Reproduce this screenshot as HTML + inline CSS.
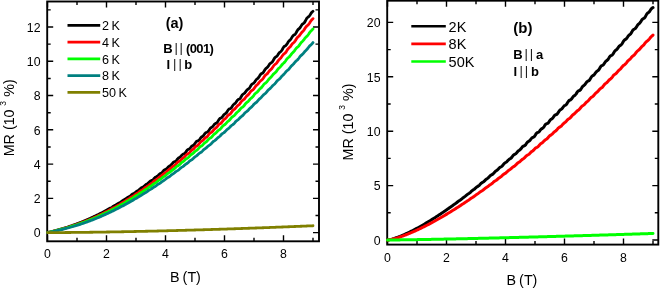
<!DOCTYPE html>
<html><head><meta charset="utf-8"><title>MR vs B</title>
<style>html,body{margin:0;padding:0;background:#fff}svg{display:block}text{filter:grayscale(1)}</style></head>
<body><svg width="660" height="289" viewBox="0 0 660 289" font-family='"Liberation Sans", sans-serif'>
<rect width="660" height="289" fill="#fff"/>
<rect x="47.20" y="1.50" width="271.80" height="239.80" fill="none" stroke="#000" stroke-width="1.90"/>
<path d="M47.50 241.30V235.30M47.50 1.50V7.50M77.00 241.30V237.80M77.00 1.50V5.00M106.50 241.30V235.30M106.50 1.50V7.50M136.00 241.30V237.80M136.00 1.50V5.00M165.50 241.30V235.30M165.50 1.50V7.50M195.00 241.30V237.80M195.00 1.50V5.00M224.50 241.30V235.30M224.50 1.50V7.50M254.00 241.30V237.80M254.00 1.50V5.00M283.50 241.30V235.30M283.50 1.50V7.50M313.00 241.30V237.80M313.00 1.50V5.00M47.20 232.60H53.20M319.00 232.60H313.00M47.20 215.47H50.70M319.00 215.47H315.50M47.20 198.34H53.20M319.00 198.34H313.00M47.20 181.21H50.70M319.00 181.21H315.50M47.20 164.08H53.20M319.00 164.08H313.00M47.20 146.95H50.70M319.00 146.95H315.50M47.20 129.82H53.20M319.00 129.82H313.00M47.20 112.69H50.70M319.00 112.69H315.50M47.20 95.56H53.20M319.00 95.56H313.00M47.20 78.43H50.70M319.00 78.43H315.50M47.20 61.30H53.20M319.00 61.30H313.00M47.20 44.17H50.70M319.00 44.17H315.50M47.20 27.04H53.20M319.00 27.04H313.00M47.20 9.91H50.70M319.00 9.91H315.50" stroke="#000" stroke-width="1.40" fill="none"/>
<g fill="none" stroke-width="2.80" stroke-linecap="round" stroke-linejoin="round">
<path d="M47.50 232.60 L48.38 232.42 L49.27 232.22 L50.16 232.01 L51.04 231.79 L51.92 231.57 L52.81 231.35 L53.70 231.12 L54.58 230.88 L55.47 230.64 L56.35 230.40 L57.23 230.16 L58.12 229.91 L59.01 229.66 L59.89 229.41 L60.77 229.15 L61.66 228.89 L62.55 228.62 L63.43 228.36 L64.31 228.09 L65.20 227.81 L66.09 227.53 L66.97 227.25 L67.85 226.96 L68.74 226.68 L69.62 226.38 L70.51 226.08 L71.40 225.78 L72.28 225.48 L73.16 225.17 L74.05 224.85 L74.94 224.53 L75.82 224.21 L76.70 223.88 L77.59 223.55 L78.47 223.21 L79.36 222.87 L80.25 222.53 L81.13 222.18 L82.02 221.82 L82.90 221.47 L83.78 221.10 L84.67 220.74 L85.56 220.36 L86.44 219.99 L87.33 219.60 L88.21 219.22 L89.09 218.83 L89.98 218.43 L90.87 218.03 L91.75 217.63 L92.63 217.22 L93.52 216.81 L94.41 216.39 L95.29 215.96 L96.17 215.54 L97.06 215.10 L97.94 214.67 L98.83 214.23 L99.72 213.78 L100.60 213.33 L101.48 212.88 L102.37 212.42 L103.25 211.96 L104.14 211.49 L105.03 211.01 L105.91 210.54 L106.79 210.06 L107.68 209.57 L108.56 209.07 L109.45 208.57 L110.33 208.09 L111.22 207.62 L112.11 207.11 L112.99 206.56 L113.88 206.03 L114.76 205.53 L115.64 205.04 L116.53 204.49 L117.42 203.90 L118.30 203.35 L119.19 202.87 L120.07 202.42 L120.96 201.88 L121.84 201.23 L122.72 200.59 L123.61 200.04 L124.49 199.56 L125.38 199.03 L126.27 198.40 L127.15 197.76 L128.03 197.23 L128.92 196.77 L129.81 196.23 L130.69 195.51 L131.57 194.74 L132.46 194.12 L133.34 193.67 L134.23 193.21 L135.12 192.57 L136.00 191.83 L136.88 191.17 L137.77 190.66 L138.66 190.14 L139.54 189.42 L140.43 188.57 L141.31 187.85 L142.19 187.39 L143.08 187.01 L143.97 186.41 L144.85 185.57 L145.74 184.72 L146.62 184.10 L147.50 183.61 L148.39 182.98 L149.28 182.13 L150.16 181.31 L151.04 180.77 L151.93 180.41 L152.81 179.86 L153.70 178.95 L154.58 177.93 L155.47 177.15 L156.36 176.69 L157.24 176.21 L158.12 175.45 L159.01 174.54 L159.89 173.82 L160.78 173.37 L161.67 172.86 L162.55 171.98 L163.44 170.84 L164.32 169.92 L165.21 169.45 L166.09 169.12 L166.97 168.50 L167.86 167.51 L168.75 166.54 L169.63 165.89 L170.51 165.41 L171.40 164.65 L172.29 163.54 L173.17 162.51 L174.06 161.94 L174.94 161.69 L175.82 161.19 L176.71 160.16 L177.59 158.94 L178.48 158.04 L179.36 157.55 L180.25 157.00 L181.14 156.06 L182.02 154.96 L182.91 154.20 L183.79 153.86 L184.68 153.44 L185.56 152.45 L186.44 151.06 L187.33 149.92 L188.21 149.38 L189.10 149.06 L189.99 148.37 L190.87 147.25 L191.75 146.21 L192.64 145.63 L193.53 145.21 L194.41 144.35 L195.29 142.97 L196.18 141.67 L197.06 141.02 L197.95 140.82 L198.84 140.37 L199.72 139.28 L200.61 137.96 L201.49 137.03 L202.38 136.51 L203.26 135.86 L204.14 134.70 L205.03 133.39 L205.91 132.55 L206.80 132.27 L207.69 131.92 L208.57 130.91 L209.46 129.44 L210.34 128.19 L211.22 127.53 L212.11 127.07 L213.00 126.22 L213.88 124.99 L214.76 123.93 L215.65 123.39 L216.54 123.01 L217.42 122.12 L218.31 120.64 L219.19 119.20 L220.07 118.38 L220.96 118.04 L221.84 117.49 L222.73 116.38 L223.61 115.09 L224.50 114.20 L225.39 113.67 L226.27 112.92 L227.16 111.61 L228.04 110.13 L228.93 109.15 L229.81 108.79 L230.69 108.42 L231.58 107.44 L232.46 105.99 L233.35 104.73 L234.24 103.99 L235.12 103.38 L236.00 102.36 L236.89 100.98 L237.78 99.84 L238.66 99.30 L239.54 98.94 L240.43 98.08 L241.31 96.58 L242.20 95.06 L243.09 94.11 L243.97 93.60 L244.86 92.90 L245.74 91.70 L246.62 90.41 L247.51 89.55 L248.39 89.06 L249.28 88.29 L250.16 86.89 L251.05 85.27 L251.94 84.13 L252.82 83.63 L253.71 83.17 L254.59 82.18 L255.47 80.76 L256.36 79.55 L257.25 78.80 L258.13 78.11 L259.01 76.94 L259.90 75.39 L260.79 74.12 L261.67 73.50 L262.56 73.13 L263.44 72.30 L264.32 70.84 L265.21 69.30 L266.10 68.28 L266.98 67.63 L267.87 66.76 L268.75 65.42 L269.63 64.05 L270.52 63.19 L271.40 62.73 L272.29 62.00 L273.18 60.58 L274.06 58.88 L274.94 57.61 L275.83 56.95 L276.71 56.35 L277.60 55.28 L278.49 53.86 L279.37 52.68 L280.25 51.98 L281.14 51.27 L282.02 50.01 L282.91 48.32 L283.79 46.89 L284.68 46.15 L285.56 45.71 L286.45 44.86 L287.34 43.43 L288.22 41.94 L289.11 40.91 L289.99 40.18 L290.88 39.17 L291.76 37.66 L292.64 36.16 L293.53 35.24 L294.41 34.78 L295.30 34.08 L296.19 32.70 L297.07 30.99 L297.96 29.64 L298.84 28.85 L299.73 28.09 L300.61 26.87 L301.50 25.38 L302.38 24.21 L303.26 23.55 L304.15 22.88 L305.04 21.61 L305.92 19.83 L306.80 18.27 L307.69 17.37 L308.57 16.80 L309.46 15.88 L310.35 14.45 L311.23 13.01 L312.12 12.02 L313.00 11.28" stroke="#000000"/>
<path d="M47.50 232.60 L48.38 232.42 L49.27 232.23 L50.16 232.03 L51.04 231.83 L51.92 231.62 L52.81 231.40 L53.70 231.18 L54.58 230.96 L55.47 230.74 L56.35 230.51 L57.23 230.28 L58.12 230.05 L59.01 229.82 L59.89 229.58 L60.77 229.34 L61.66 229.10 L62.55 228.85 L63.43 228.60 L64.31 228.35 L65.20 228.09 L66.09 227.83 L66.97 227.57 L67.85 227.31 L68.74 227.04 L69.62 226.76 L70.51 226.48 L71.40 226.20 L72.28 225.92 L73.16 225.63 L74.05 225.34 L74.94 225.04 L75.82 224.74 L76.70 224.43 L77.59 224.12 L78.47 223.81 L79.36 223.49 L80.25 223.17 L81.13 222.84 L82.02 222.51 L82.90 222.17 L83.78 221.83 L84.67 221.49 L85.56 221.14 L86.44 220.78 L87.33 220.42 L88.21 220.06 L89.09 219.69 L89.98 219.32 L90.87 218.95 L91.75 218.57 L92.63 218.18 L93.52 217.79 L94.41 217.40 L95.29 217.00 L96.17 216.60 L97.06 216.19 L97.94 215.78 L98.83 215.36 L99.72 214.94 L100.60 214.51 L101.48 214.08 L102.37 213.65 L103.25 213.21 L104.14 212.77 L105.03 212.32 L105.91 211.87 L106.79 211.41 L107.68 210.95 L108.56 210.48 L109.45 210.02 L110.33 209.57 L111.22 209.09 L112.11 208.59 L112.99 208.08 L113.88 207.59 L114.76 207.13 L115.64 206.64 L116.53 206.12 L117.42 205.59 L118.30 205.10 L119.19 204.63 L120.07 204.13 L120.96 203.55 L121.84 202.96 L122.72 202.42 L123.61 201.96 L124.49 201.48 L125.38 200.93 L126.27 200.32 L127.15 199.75 L128.03 199.25 L128.92 198.73 L129.81 198.13 L130.69 197.46 L131.57 196.87 L132.46 196.39 L133.34 195.94 L134.23 195.37 L135.12 194.68 L136.00 194.00 L136.88 193.43 L137.77 192.92 L138.66 192.34 L139.54 191.65 L140.43 190.98 L141.31 190.44 L142.19 189.99 L143.08 189.43 L143.97 188.68 L144.85 187.88 L145.74 187.22 L146.62 186.73 L147.50 186.21 L148.39 185.54 L149.28 184.78 L150.16 184.14 L151.04 183.63 L151.93 183.08 L152.81 182.32 L153.70 181.44 L154.58 180.69 L155.47 180.18 L156.36 179.74 L157.24 179.12 L158.12 178.29 L159.01 177.48 L159.89 176.86 L160.78 176.32 L161.67 175.62 L162.55 174.73 L163.44 173.90 L164.32 173.33 L165.21 172.92 L166.09 172.35 L166.97 171.47 L167.86 170.49 L168.75 169.73 L169.63 169.18 L170.51 168.60 L171.40 167.79 L172.29 166.89 L173.17 166.19 L174.06 165.72 L174.94 165.18 L175.82 164.30 L176.71 163.21 L177.59 162.30 L178.48 161.74 L179.36 161.28 L180.25 160.59 L181.14 159.64 L182.02 158.76 L182.91 158.14 L183.79 157.60 L184.68 156.79 L185.56 155.69 L186.44 154.67 L187.33 154.04 L188.21 153.66 L189.10 153.09 L189.99 152.13 L190.87 151.03 L191.75 150.20 L192.64 149.63 L193.53 148.95 L194.41 147.96 L195.29 146.88 L196.18 146.12 L197.06 145.71 L197.95 145.21 L198.84 144.27 L199.72 143.04 L200.61 141.99 L201.49 141.34 L202.38 140.81 L203.26 140.01 L204.14 138.95 L205.03 138.01 L205.91 137.42 L206.80 136.90 L207.69 136.03 L208.57 134.78 L209.46 133.60 L210.34 132.86 L211.22 132.40 L212.11 131.78 L213.00 130.77 L213.88 129.65 L214.76 128.81 L215.65 128.20 L216.54 127.43 L217.42 126.30 L218.31 125.08 L219.19 124.22 L220.07 123.74 L220.96 123.21 L221.84 122.27 L222.73 121.02 L223.61 119.93 L224.50 119.20 L225.39 118.53 L226.27 117.59 L227.16 116.41 L228.04 115.42 L228.93 114.81 L229.81 114.28 L230.69 113.40 L231.58 112.11 L232.46 110.84 L233.35 109.97 L234.24 109.38 L235.12 108.64 L236.00 107.56 L236.89 106.43 L237.78 105.60 L238.66 104.98 L239.54 104.16 L240.43 102.93 L241.31 101.59 L242.20 100.60 L243.09 100.02 L243.97 99.43 L244.86 98.46 L245.74 97.21 L246.62 96.12 L247.51 95.34 L248.39 94.59 L249.28 93.51 L250.16 92.21 L251.05 91.11 L251.94 90.44 L252.82 89.90 L253.71 89.02 L254.59 87.72 L255.47 86.41 L256.36 85.46 L257.25 84.74 L258.13 83.87 L259.01 82.68 L259.90 81.50 L260.79 80.65 L261.67 80.04 L262.56 79.21 L263.44 77.93 L264.32 76.51 L265.21 75.40 L266.10 74.69 L266.98 73.99 L267.87 72.96 L268.75 71.70 L269.63 70.62 L270.52 69.84 L271.40 69.04 L272.29 67.87 L273.18 66.45 L274.06 65.23 L274.94 64.46 L275.83 63.86 L276.71 62.96 L277.60 61.66 L278.49 60.36 L279.37 59.37 L280.25 58.57 L281.14 57.56 L282.02 56.25 L282.91 54.96 L283.79 54.07 L284.68 53.44 L285.56 52.62 L286.45 51.34 L287.34 49.87 L288.22 48.68 L289.11 47.85 L289.99 47.03 L290.88 45.89 L291.76 44.58 L292.64 43.49 L293.53 42.73 L294.41 41.93 L295.30 40.71 L296.19 39.20 L297.07 37.86 L297.96 36.97 L298.84 36.27 L299.73 35.31 L300.61 34.01 L301.50 32.72 L302.38 31.73 L303.26 30.89 L304.15 29.80 L305.04 28.36 L305.92 26.95 L306.80 25.96 L307.69 25.29 L308.57 24.46 L309.46 23.18 L310.35 21.72 L311.23 20.49 L312.12 19.58 L313.00 18.63" stroke="#ff0000"/>
<path d="M47.50 232.60 L48.38 232.43 L49.27 232.24 L50.16 232.04 L51.04 231.84 L51.92 231.63 L52.81 231.42 L53.70 231.21 L54.58 231.00 L55.47 230.78 L56.35 230.56 L57.23 230.34 L58.12 230.12 L59.01 229.89 L59.89 229.66 L60.77 229.43 L61.66 229.20 L62.55 228.97 L63.43 228.73 L64.31 228.49 L65.20 228.24 L66.09 227.99 L66.97 227.74 L67.85 227.49 L68.74 227.23 L69.62 226.97 L70.51 226.71 L71.40 226.44 L72.28 226.17 L73.16 225.89 L74.05 225.61 L74.94 225.33 L75.82 225.04 L76.70 224.75 L77.59 224.46 L78.47 224.16 L79.36 223.86 L80.25 223.55 L81.13 223.24 L82.02 222.92 L82.90 222.60 L83.78 222.28 L84.67 221.95 L85.56 221.62 L86.44 221.29 L87.33 220.95 L88.21 220.60 L89.09 220.25 L89.98 219.90 L90.87 219.54 L91.75 219.18 L92.63 218.82 L93.52 218.45 L94.41 218.07 L95.29 217.69 L96.17 217.31 L97.06 216.93 L97.94 216.53 L98.83 216.14 L99.72 215.74 L100.60 215.34 L101.48 214.93 L102.37 214.51 L103.25 214.10 L104.14 213.68 L105.03 213.25 L105.91 212.82 L106.79 212.39 L107.68 211.95 L108.56 211.51 L109.45 211.08 L110.33 210.63 L111.22 210.16 L112.11 209.69 L112.99 209.23 L113.88 208.79 L114.76 208.34 L115.64 207.86 L116.53 207.35 L117.42 206.86 L118.30 206.40 L119.19 205.93 L120.07 205.41 L120.96 204.87 L121.84 204.37 L122.72 203.92 L123.61 203.47 L124.49 202.95 L125.38 202.37 L126.27 201.80 L127.15 201.30 L128.03 200.83 L128.92 200.31 L129.81 199.72 L130.69 199.15 L131.57 198.67 L132.46 198.21 L133.34 197.67 L134.23 197.02 L135.12 196.37 L136.00 195.81 L136.88 195.35 L137.77 194.86 L138.66 194.25 L139.54 193.61 L140.43 193.03 L141.31 192.54 L142.19 192.00 L143.08 191.33 L143.97 190.61 L144.85 189.99 L145.74 189.52 L146.62 189.07 L147.50 188.47 L148.39 187.73 L149.28 187.04 L150.16 186.48 L151.04 185.96 L151.93 185.32 L152.81 184.57 L153.70 183.88 L154.58 183.36 L155.47 182.92 L156.36 182.33 L157.24 181.54 L158.12 180.72 L159.01 180.06 L159.89 179.56 L160.78 179.00 L161.67 178.27 L162.55 177.50 L163.44 176.89 L164.32 176.40 L165.21 175.83 L166.09 175.02 L166.97 174.11 L167.86 173.36 L168.75 172.86 L169.63 172.39 L170.51 171.72 L171.40 170.87 L172.29 170.10 L173.17 169.51 L174.06 168.96 L174.94 168.20 L175.82 167.26 L176.71 166.42 L177.59 165.88 L178.48 165.46 L179.36 164.86 L180.25 163.96 L181.14 163.01 L182.02 162.28 L182.91 161.73 L183.79 161.08 L184.68 160.20 L185.56 159.29 L186.44 158.64 L187.33 158.20 L188.21 157.64 L189.10 156.73 L189.99 155.65 L190.87 154.76 L191.75 154.20 L192.64 153.69 L193.53 152.93 L194.41 151.98 L195.29 151.15 L196.18 150.59 L197.06 150.04 L197.95 149.18 L198.84 148.06 L199.72 147.07 L200.61 146.45 L201.49 146.02 L202.38 145.39 L203.26 144.42 L204.14 143.42 L205.03 142.66 L205.91 142.07 L206.80 141.32 L207.69 140.28 L208.57 139.24 L209.46 138.52 L210.34 138.07 L211.22 137.50 L212.11 136.56 L213.00 135.42 L213.88 134.46 L214.76 133.81 L215.65 133.18 L216.54 132.30 L217.42 131.26 L218.31 130.40 L219.19 129.82 L220.07 129.26 L220.96 128.36 L221.84 127.17 L222.73 126.08 L223.61 125.34 L224.50 124.80 L225.39 124.08 L226.27 123.07 L227.16 122.05 L228.04 121.29 L228.93 120.67 L229.81 119.84 L230.69 118.70 L231.58 117.54 L232.46 116.71 L233.35 116.19 L234.24 115.58 L235.12 114.62 L236.00 113.47 L236.89 112.49 L237.78 111.77 L238.66 111.03 L239.54 110.03 L240.43 108.88 L241.31 107.94 L242.20 107.33 L243.09 106.76 L243.97 105.85 L244.86 104.63 L245.74 103.47 L246.62 102.64 L247.51 101.98 L248.39 101.14 L249.28 100.06 L250.16 99.01 L251.05 98.24 L251.94 97.61 L252.82 96.75 L253.71 95.55 L254.59 94.29 L255.47 93.34 L256.36 92.71 L257.25 92.02 L258.13 91.03 L259.01 89.87 L259.90 88.89 L260.79 88.14 L261.67 87.34 L262.56 86.23 L263.44 84.96 L264.32 83.93 L265.21 83.25 L266.10 82.64 L266.98 81.72 L267.87 80.49 L268.75 79.31 L269.63 78.41 L270.52 77.65 L271.40 76.70 L272.29 75.51 L273.18 74.39 L274.06 73.59 L274.94 72.96 L275.83 72.10 L276.71 70.86 L277.60 69.54 L278.49 68.50 L279.37 67.75 L280.25 66.96 L281.14 65.89 L282.02 64.70 L282.91 63.72 L283.79 62.97 L284.68 62.14 L285.56 60.97 L286.45 59.60 L287.34 58.45 L288.22 57.68 L289.11 57.00 L289.99 56.05 L290.88 54.82 L291.76 53.63 L292.64 52.72 L293.53 51.89 L294.41 50.84 L295.30 49.53 L296.19 48.31 L297.07 47.45 L297.96 46.79 L298.84 45.92 L299.73 44.68 L300.61 43.34 L301.50 42.24 L302.38 41.40 L303.26 40.49 L304.15 39.32 L305.04 38.06 L305.92 37.06 L306.80 36.31 L307.69 35.48 L308.57 34.27 L309.46 32.85 L310.35 31.61 L311.23 30.72 L312.12 29.94 L313.00 28.92" stroke="#00ff00"/>
<path d="M47.50 232.60 L48.38 232.45 L49.27 232.29 L50.16 232.12 L51.04 231.94 L51.92 231.76 L52.81 231.58 L53.70 231.39 L54.58 231.20 L55.47 231.00 L56.35 230.80 L57.23 230.61 L58.12 230.40 L59.01 230.20 L59.89 229.99 L60.77 229.78 L61.66 229.56 L62.55 229.35 L63.43 229.13 L64.31 228.90 L65.20 228.68 L66.09 228.45 L66.97 228.22 L67.85 227.98 L68.74 227.74 L69.62 227.50 L70.51 227.25 L71.40 227.00 L72.28 226.75 L73.16 226.49 L74.05 226.23 L74.94 225.97 L75.82 225.70 L76.70 225.43 L77.59 225.15 L78.47 224.87 L79.36 224.59 L80.25 224.30 L81.13 224.01 L82.02 223.71 L82.90 223.41 L83.78 223.11 L84.67 222.80 L85.56 222.49 L86.44 222.18 L87.33 221.86 L88.21 221.53 L89.09 221.21 L89.98 220.88 L90.87 220.54 L91.75 220.20 L92.63 219.86 L93.52 219.51 L94.41 219.16 L95.29 218.81 L96.17 218.45 L97.06 218.08 L97.94 217.72 L98.83 217.35 L99.72 216.97 L100.60 216.59 L101.48 216.21 L102.37 215.82 L103.25 215.43 L104.14 215.04 L105.03 214.64 L105.91 214.24 L106.79 213.83 L107.68 213.42 L108.56 213.01 L109.45 212.60 L110.33 212.17 L111.22 211.74 L112.11 211.31 L112.99 210.89 L113.88 210.48 L114.76 210.03 L115.64 209.56 L116.53 209.10 L117.42 208.66 L118.30 208.23 L119.19 207.77 L120.07 207.29 L120.96 206.81 L121.84 206.37 L122.72 205.94 L123.61 205.46 L124.49 204.93 L125.38 204.40 L126.27 203.93 L127.15 203.50 L128.03 203.04 L128.92 202.52 L129.81 201.98 L130.69 201.48 L131.57 201.02 L132.46 200.53 L133.34 199.96 L134.23 199.38 L135.12 198.86 L136.00 198.43 L136.88 197.98 L137.77 197.43 L138.66 196.81 L139.54 196.23 L140.43 195.73 L141.31 195.25 L142.19 194.69 L143.08 194.06 L143.97 193.49 L144.85 193.02 L145.74 192.57 L146.62 192.02 L147.50 191.33 L148.39 190.66 L149.28 190.11 L150.16 189.64 L151.04 189.12 L151.93 188.49 L152.81 187.84 L153.70 187.29 L154.58 186.82 L155.47 186.26 L156.36 185.55 L157.24 184.81 L158.12 184.20 L159.01 183.74 L159.89 183.27 L160.78 182.65 L161.67 181.91 L162.55 181.25 L163.44 180.71 L164.32 180.17 L165.21 179.50 L166.09 178.72 L166.97 178.04 L167.86 177.55 L168.75 177.11 L169.63 176.51 L170.51 175.71 L171.40 174.91 L172.29 174.29 L173.17 173.77 L174.06 173.17 L174.94 172.42 L175.82 171.66 L176.71 171.09 L177.59 170.63 L178.48 170.05 L179.36 169.22 L180.25 168.32 L181.14 167.60 L182.02 167.10 L182.91 166.60 L183.79 165.89 L184.68 165.07 L185.56 164.35 L186.44 163.81 L187.33 163.25 L188.21 162.46 L189.10 161.51 L189.99 160.70 L190.87 160.18 L191.75 159.75 L192.64 159.12 L193.53 158.24 L194.41 157.35 L195.29 156.68 L196.18 156.13 L197.06 155.43 L197.95 154.53 L198.84 153.66 L199.72 153.05 L200.61 152.61 L201.49 152.02 L202.38 151.12 L203.26 150.12 L204.14 149.31 L205.03 148.74 L205.91 148.15 L206.80 147.35 L207.69 146.45 L208.57 145.70 L209.46 145.16 L210.34 144.58 L211.22 143.72 L212.11 142.67 L213.00 141.76 L213.88 141.14 L214.76 140.63 L215.65 139.94 L216.54 139.02 L217.42 138.12 L218.31 137.43 L219.19 136.83 L220.07 136.04 L220.96 135.03 L221.84 134.06 L222.73 133.37 L223.61 132.87 L224.50 132.25 L225.39 131.34 L226.27 130.31 L227.16 129.46 L228.04 128.80 L228.93 128.11 L229.81 127.21 L230.69 126.22 L231.58 125.42 L232.46 124.86 L233.35 124.26 L234.24 123.38 L235.12 122.28 L236.00 121.28 L236.89 120.57 L237.78 119.96 L238.66 119.18 L239.54 118.21 L240.43 117.29 L241.31 116.59 L242.20 115.96 L243.09 115.12 L243.97 114.03 L244.86 112.96 L245.74 112.17 L246.62 111.59 L247.51 110.92 L248.39 109.99 L249.28 108.95 L250.16 108.07 L251.05 107.37 L251.94 106.60 L252.82 105.59 L253.71 104.50 L254.59 103.63 L255.47 103.02 L256.36 102.40 L257.25 101.50 L258.13 100.38 L259.01 99.34 L259.90 98.55 L260.79 97.84 L261.67 96.96 L262.56 95.91 L263.44 94.95 L264.32 94.23 L265.21 93.59 L266.10 92.73 L266.98 91.59 L267.87 90.44 L268.75 89.56 L269.63 88.89 L270.52 88.14 L271.40 87.15 L272.29 86.09 L273.18 85.21 L274.06 84.49 L274.94 83.67 L275.83 82.59 L276.71 81.40 L277.60 80.44 L278.49 79.75 L279.37 79.08 L280.25 78.16 L281.14 77.04 L282.02 75.98 L282.91 75.15 L283.79 74.36 L284.68 73.38 L285.56 72.24 L286.45 71.20 L287.34 70.44 L288.22 69.78 L289.11 68.91 L289.99 67.75 L290.88 66.56 L291.76 65.61 L292.64 64.84 L293.53 63.99 L294.41 62.93 L295.30 61.83 L296.19 60.93 L297.07 60.21 L297.96 59.37 L298.84 58.24 L299.73 56.98 L300.61 55.92 L301.50 55.14 L302.38 54.40 L303.26 53.44 L304.15 52.29 L305.04 51.24 L305.92 50.39 L306.80 49.56 L307.69 48.50 L308.57 47.26 L309.46 46.13 L310.35 45.30 L311.23 44.60 L312.12 43.71 L313.00 42.55" stroke="#008080"/>
<path d="M47.50 232.60 L48.38 232.60 L49.27 232.60 L50.16 232.60 L51.04 232.59 L51.92 232.59 L52.81 232.59 L53.70 232.59 L54.58 232.58 L55.47 232.58 L56.35 232.57 L57.23 232.57 L58.12 232.57 L59.01 232.56 L59.89 232.56 L60.77 232.55 L61.66 232.55 L62.55 232.54 L63.43 232.53 L64.31 232.53 L65.20 232.52 L66.09 232.51 L66.97 232.51 L67.85 232.50 L68.74 232.49 L69.62 232.49 L70.51 232.48 L71.40 232.47 L72.28 232.46 L73.16 232.45 L74.05 232.45 L74.94 232.44 L75.82 232.43 L76.70 232.42 L77.59 232.41 L78.47 232.40 L79.36 232.39 L80.25 232.38 L81.13 232.37 L82.02 232.36 L82.90 232.35 L83.78 232.34 L84.67 232.33 L85.56 232.32 L86.44 232.31 L87.33 232.30 L88.21 232.29 L89.09 232.28 L89.98 232.27 L90.87 232.26 L91.75 232.24 L92.63 232.23 L93.52 232.22 L94.41 232.21 L95.29 232.20 L96.17 232.18 L97.06 232.17 L97.94 232.16 L98.83 232.14 L99.72 232.13 L100.60 232.12 L101.48 232.11 L102.37 232.09 L103.25 232.08 L104.14 232.06 L105.03 232.05 L105.91 232.04 L106.79 232.02 L107.68 232.01 L108.56 231.99 L109.45 231.98 L110.33 231.96 L111.22 231.95 L112.11 231.93 L112.99 231.92 L113.88 231.90 L114.76 231.89 L115.64 231.87 L116.53 231.86 L117.42 231.84 L118.30 231.83 L119.19 231.81 L120.07 231.79 L120.96 231.78 L121.84 231.76 L122.72 231.74 L123.61 231.73 L124.49 231.71 L125.38 231.69 L126.27 231.68 L127.15 231.66 L128.03 231.64 L128.92 231.63 L129.81 231.61 L130.69 231.59 L131.57 231.57 L132.46 231.55 L133.34 231.54 L134.23 231.52 L135.12 231.50 L136.00 231.48 L136.88 231.46 L137.77 231.44 L138.66 231.43 L139.54 231.41 L140.43 231.39 L141.31 231.37 L142.19 231.35 L143.08 231.33 L143.97 231.31 L144.85 231.29 L145.74 231.27 L146.62 231.25 L147.50 231.23 L148.39 231.21 L149.28 231.19 L150.16 231.17 L151.04 231.15 L151.93 231.13 L152.81 231.11 L153.70 231.09 L154.58 231.07 L155.47 231.05 L156.36 231.03 L157.24 231.01 L158.12 230.98 L159.01 230.96 L159.89 230.94 L160.78 230.92 L161.67 230.90 L162.55 230.88 L163.44 230.85 L164.32 230.83 L165.21 230.81 L166.09 230.79 L166.97 230.77 L167.86 230.74 L168.75 230.72 L169.63 230.70 L170.51 230.67 L171.40 230.65 L172.29 230.63 L173.17 230.61 L174.06 230.58 L174.94 230.56 L175.82 230.54 L176.71 230.51 L177.59 230.49 L178.48 230.46 L179.36 230.44 L180.25 230.42 L181.14 230.39 L182.02 230.37 L182.91 230.34 L183.79 230.32 L184.68 230.30 L185.56 230.27 L186.44 230.25 L187.33 230.22 L188.21 230.20 L189.10 230.17 L189.99 230.15 L190.87 230.12 L191.75 230.10 L192.64 230.07 L193.53 230.04 L194.41 230.02 L195.29 229.99 L196.18 229.97 L197.06 229.94 L197.95 229.92 L198.84 229.89 L199.72 229.86 L200.61 229.84 L201.49 229.81 L202.38 229.78 L203.26 229.76 L204.14 229.73 L205.03 229.70 L205.91 229.68 L206.80 229.65 L207.69 229.62 L208.57 229.60 L209.46 229.57 L210.34 229.54 L211.22 229.51 L212.11 229.49 L213.00 229.46 L213.88 229.43 L214.76 229.40 L215.65 229.38 L216.54 229.35 L217.42 229.32 L218.31 229.29 L219.19 229.26 L220.07 229.23 L220.96 229.21 L221.84 229.18 L222.73 229.15 L223.61 229.12 L224.50 229.09 L225.39 229.06 L226.27 229.03 L227.16 229.00 L228.04 228.97 L228.93 228.94 L229.81 228.91 L230.69 228.89 L231.58 228.86 L232.46 228.83 L233.35 228.80 L234.24 228.77 L235.12 228.74 L236.00 228.71 L236.89 228.68 L237.78 228.65 L238.66 228.62 L239.54 228.58 L240.43 228.55 L241.31 228.52 L242.20 228.49 L243.09 228.46 L243.97 228.43 L244.86 228.40 L245.74 228.37 L246.62 228.34 L247.51 228.31 L248.39 228.27 L249.28 228.24 L250.16 228.21 L251.05 228.18 L251.94 228.15 L252.82 228.12 L253.71 228.08 L254.59 228.05 L255.47 228.02 L256.36 227.99 L257.25 227.96 L258.13 227.92 L259.01 227.89 L259.90 227.86 L260.79 227.83 L261.67 227.79 L262.56 227.76 L263.44 227.73 L264.32 227.69 L265.21 227.66 L266.10 227.63 L266.98 227.59 L267.87 227.56 L268.75 227.53 L269.63 227.49 L270.52 227.46 L271.40 227.43 L272.29 227.39 L273.18 227.36 L274.06 227.33 L274.94 227.29 L275.83 227.26 L276.71 227.22 L277.60 227.19 L278.49 227.15 L279.37 227.12 L280.25 227.09 L281.14 227.05 L282.02 227.02 L282.91 226.98 L283.79 226.95 L284.68 226.91 L285.56 226.88 L286.45 226.84 L287.34 226.81 L288.22 226.77 L289.11 226.74 L289.99 226.70 L290.88 226.66 L291.76 226.63 L292.64 226.59 L293.53 226.56 L294.41 226.52 L295.30 226.49 L296.19 226.45 L297.07 226.41 L297.96 226.38 L298.84 226.34 L299.73 226.30 L300.61 226.27 L301.50 226.23 L302.38 226.19 L303.26 226.16 L304.15 226.12 L305.04 226.08 L305.92 226.05 L306.80 226.01 L307.69 225.97 L308.57 225.94 L309.46 225.90 L310.35 225.86 L311.23 225.82 L312.12 225.79 L313.00 225.75" stroke="#808000"/>
</g>
<g font-size="12.30" fill="#000">
<text x="47.50" y="257.70" text-anchor="middle">0</text>
<text x="106.50" y="257.70" text-anchor="middle">2</text>
<text x="165.50" y="257.70" text-anchor="middle">4</text>
<text x="224.50" y="257.70" text-anchor="middle">6</text>
<text x="283.50" y="257.70" text-anchor="middle">8</text>
<text x="40.50" y="237.40" text-anchor="end">0</text>
<text x="40.50" y="203.14" text-anchor="end">2</text>
<text x="40.50" y="168.88" text-anchor="end">4</text>
<text x="40.50" y="134.62" text-anchor="end">6</text>
<text x="40.50" y="100.36" text-anchor="end">8</text>
<text x="40.50" y="66.10" text-anchor="end">10</text>
<text x="40.50" y="31.84" text-anchor="end">12</text>
</g>
<text x="185.50" y="282.00" font-size="14.30" text-anchor="middle" word-spacing="-1">B (T)</text>
<text transform="translate(14.10 156.30) rotate(-90)" font-size="14.30">MR (10<tspan dy="-8" dx="3.8" font-size="8.50">3</tspan><tspan dy="8" dx="4.2">%)</tspan></text>
<g font-size="12.60">
<path d="M67.50 25.40H100.20" stroke="#000000" stroke-width="2.60" fill="none"/>
<text x="102.00" y="30.00" word-spacing="-1.00">2 K</text>
<path d="M67.50 42.15H100.20" stroke="#ff0000" stroke-width="2.60" fill="none"/>
<text x="102.00" y="46.75" word-spacing="-1.00">4 K</text>
<path d="M67.50 58.90H100.20" stroke="#00ff00" stroke-width="2.60" fill="none"/>
<text x="102.00" y="63.50" word-spacing="-1.00">6 K</text>
<path d="M67.50 75.65H100.20" stroke="#008080" stroke-width="2.60" fill="none"/>
<text x="102.00" y="80.25" word-spacing="-1.00">8 K</text>
<path d="M67.50 92.40H100.20" stroke="#808000" stroke-width="2.60" fill="none"/>
<text x="102.00" y="97.00" word-spacing="-1.00">50 K</text>
</g>
<text y="28.20" font-size="14.50" font-weight="bold" letter-spacing="0.00"><tspan x="165.70" dy="0.00">(a)</tspan></text>
<text y="53.20" font-size="13.00" font-weight="bold" letter-spacing="-0.60"><tspan x="163.20" dy="0.00">B</tspan><tspan x="174.50" font-weight="normal" fill="#151515" dy="-1.00">|</tspan><tspan x="179.40" font-weight="normal" fill="#151515" dy="0.00">|</tspan><tspan x="186.00" dy="1.00">(001)</tspan></text>
<text y="69.40" font-size="13.00" font-weight="bold" letter-spacing="0.00"><tspan x="166.60" dy="0.00">I</tspan><tspan x="173.00" font-weight="normal" fill="#151515" dy="-1.00">|</tspan><tspan x="178.40" font-weight="normal" fill="#151515" dy="0.00">|</tspan><tspan x="184.20" dy="1.00">b</tspan></text>
<rect x="387.20" y="0.70" width="271.10" height="243.90" fill="none" stroke="#000" stroke-width="1.90"/>
<path d="M387.50 244.60V238.60M387.50 0.70V6.70M417.00 244.60V241.10M417.00 0.70V4.20M446.50 244.60V238.60M446.50 0.70V6.70M476.00 244.60V241.10M476.00 0.70V4.20M505.50 244.60V238.60M505.50 0.70V6.70M535.00 244.60V241.10M535.00 0.70V4.20M564.50 244.60V238.60M564.50 0.70V6.70M594.00 244.60V241.10M594.00 0.70V4.20M623.50 244.60V238.60M623.50 0.70V6.70M653.00 244.60V241.10M653.00 0.70V4.20M387.20 240.00H393.20M658.30 240.00H652.30M387.20 212.80H390.70M658.30 212.80H654.80M387.20 185.60H393.20M658.30 185.60H652.30M387.20 158.40H390.70M658.30 158.40H654.80M387.20 131.20H393.20M658.30 131.20H652.30M387.20 104.00H390.70M658.30 104.00H654.80M387.20 76.80H393.20M658.30 76.80H652.30M387.20 49.60H390.70M658.30 49.60H654.80M387.20 22.40H393.20M658.30 22.40H652.30" stroke="#000" stroke-width="1.40" fill="none"/>
<g fill="none" stroke-width="3.00" stroke-linecap="round" stroke-linejoin="round">
<path d="M387.50 240.00 L388.38 239.90 L389.27 239.74 L390.15 239.56 L391.04 239.34 L391.93 239.11 L392.81 238.86 L393.69 238.60 L394.58 238.32 L395.46 238.02 L396.35 237.72 L397.24 237.40 L398.12 237.08 L399.00 236.74 L399.89 236.40 L400.77 236.04 L401.66 235.68 L402.55 235.31 L403.43 234.93 L404.31 234.54 L405.20 234.14 L406.08 233.74 L406.97 233.33 L407.86 232.92 L408.74 232.50 L409.62 232.07 L410.51 231.63 L411.39 231.19 L412.28 230.75 L413.17 230.29 L414.05 229.84 L414.94 229.37 L415.82 228.90 L416.70 228.43 L417.59 227.95 L418.48 227.47 L419.36 226.98 L420.25 226.48 L421.13 225.98 L422.01 225.48 L422.90 224.97 L423.78 224.46 L424.67 223.94 L425.56 223.42 L426.44 222.89 L427.32 222.36 L428.21 221.82 L429.10 221.28 L429.98 220.74 L430.87 220.19 L431.75 219.64 L432.63 219.09 L433.52 218.53 L434.40 217.96 L435.29 217.39 L436.18 216.82 L437.06 216.25 L437.94 215.67 L438.83 215.09 L439.72 214.50 L440.60 213.91 L441.49 213.32 L442.37 212.72 L443.25 212.12 L444.14 211.52 L445.02 210.91 L445.91 210.30 L446.80 209.69 L447.68 209.07 L448.56 208.44 L449.45 207.81 L450.33 207.19 L451.22 206.59 L452.11 205.96 L452.99 205.30 L453.88 204.64 L454.76 204.03 L455.64 203.42 L456.53 202.75 L457.42 202.03 L458.30 201.33 L459.19 200.72 L460.07 200.16 L460.96 199.54 L461.84 198.81 L462.73 198.06 L463.61 197.39 L464.50 196.78 L465.38 196.13 L466.26 195.37 L467.15 194.60 L468.03 193.96 L468.92 193.42 L469.81 192.83 L470.69 192.05 L471.57 191.18 L472.46 190.41 L473.35 189.81 L474.23 189.23 L475.12 188.51 L476.00 187.68 L476.88 186.94 L477.77 186.37 L478.65 185.80 L479.54 185.02 L480.43 184.05 L481.31 183.17 L482.19 182.55 L483.08 182.07 L483.97 181.44 L484.85 180.57 L485.74 179.68 L486.62 178.99 L487.50 178.42 L488.39 177.70 L489.27 176.73 L490.16 175.76 L491.04 175.08 L491.93 174.65 L492.81 174.12 L493.70 173.25 L494.58 172.19 L495.47 171.30 L496.36 170.70 L497.24 170.11 L498.12 169.25 L499.01 168.24 L499.89 167.44 L500.78 166.96 L501.67 166.50 L502.55 165.65 L503.44 164.47 L504.32 163.39 L505.21 162.73 L506.09 162.28 L506.98 161.61 L507.86 160.62 L508.75 159.64 L509.63 158.99 L510.51 158.51 L511.40 157.75 L512.28 156.56 L513.17 155.35 L514.06 154.58 L514.94 154.24 L515.83 153.78 L516.71 152.84 L517.60 151.66 L518.48 150.74 L519.37 150.17 L520.25 149.55 L521.13 148.51 L522.02 147.26 L522.90 146.36 L523.79 145.99 L524.67 145.67 L525.56 144.83 L526.44 143.49 L527.33 142.26 L528.21 141.54 L529.10 141.08 L529.99 140.31 L530.87 139.15 L531.75 138.08 L532.64 137.52 L533.52 137.21 L534.41 136.48 L535.29 135.11 L536.18 133.65 L537.07 132.76 L537.95 132.42 L538.84 131.96 L539.72 130.96 L540.61 129.72 L541.49 128.83 L542.38 128.35 L543.26 127.72 L544.14 126.52 L545.03 125.05 L545.91 124.01 L546.80 123.62 L547.68 123.35 L548.57 122.53 L549.46 121.19 L550.34 119.95 L551.23 119.21 L552.11 118.67 L553.00 117.76 L553.88 116.43 L554.76 115.27 L555.65 114.71 L556.54 114.45 L557.42 113.76 L558.31 112.41 L559.19 110.92 L560.08 109.93 L560.96 109.44 L561.85 108.84 L562.73 107.75 L563.62 106.50 L564.50 105.65 L565.38 105.23 L566.27 104.62 L567.15 103.38 L568.04 101.80 L568.92 100.62 L569.81 100.11 L570.69 99.75 L571.58 98.91 L572.46 97.61 L573.35 96.43 L574.24 95.73 L575.12 95.15 L576.00 94.12 L576.89 92.65 L577.77 91.36 L578.66 90.72 L579.54 90.45 L580.43 89.80 L581.32 88.51 L582.20 87.04 L583.09 86.03 L583.97 85.44 L584.86 84.69 L585.74 83.46 L586.62 82.13 L587.51 81.28 L588.39 80.91 L589.28 80.36 L590.16 79.13 L591.05 77.52 L591.93 76.25 L592.82 75.60 L593.71 75.10 L594.59 74.17 L595.48 72.86 L596.36 71.74 L597.25 71.10 L598.13 70.55 L599.01 69.48 L599.90 67.90 L600.79 66.48 L601.67 65.72 L602.56 65.37 L603.44 64.71 L604.33 63.45 L605.21 62.06 L606.10 61.08 L606.98 60.45 L607.87 59.60 L608.75 58.22 L609.63 56.76 L610.52 55.85 L611.40 55.47 L612.29 54.97 L613.17 53.80 L614.06 52.22 L614.94 50.92 L615.83 50.17 L616.71 49.53 L617.60 48.47 L618.49 47.08 L619.37 45.96 L620.25 45.38 L621.14 44.90 L622.02 43.85 L622.91 42.23 L623.79 40.71 L624.68 39.82 L625.57 39.34 L626.45 38.60 L627.34 37.34 L628.22 36.00 L629.11 35.10 L629.99 34.50 L630.88 33.60 L631.76 32.12 L632.64 30.53 L633.53 29.49 L634.41 29.05 L635.30 28.54 L636.18 27.42 L637.07 25.91 L637.96 24.64 L638.84 23.86 L639.73 23.12 L640.61 21.92 L641.50 20.40 L642.38 19.22 L643.26 18.64 L644.15 18.21 L645.04 17.22 L645.92 15.63 L646.80 14.08 L647.69 13.10 L648.58 12.49 L649.46 11.61 L650.35 10.28 L651.23 8.94 L652.12 8.10 L653.00 7.58" stroke="#000000"/>
<path d="M387.50 240.00 L388.38 239.92 L389.27 239.80 L390.15 239.64 L391.04 239.47 L391.93 239.28 L392.81 239.07 L393.69 238.85 L394.58 238.62 L395.46 238.38 L396.35 238.12 L397.24 237.86 L398.12 237.59 L399.00 237.30 L399.89 237.01 L400.77 236.72 L401.66 236.41 L402.55 236.10 L403.43 235.78 L404.31 235.45 L405.20 235.11 L406.08 234.77 L406.97 234.43 L407.86 234.07 L408.74 233.72 L409.62 233.35 L410.51 232.98 L411.39 232.61 L412.28 232.23 L413.17 231.84 L414.05 231.45 L414.94 231.05 L415.82 230.65 L416.70 230.25 L417.59 229.84 L418.48 229.42 L419.36 229.00 L420.25 228.58 L421.13 228.15 L422.01 227.72 L422.90 227.28 L423.78 226.84 L424.67 226.40 L425.56 225.95 L426.44 225.50 L427.32 225.04 L428.21 224.58 L429.10 224.11 L429.98 223.65 L430.87 223.17 L431.75 222.70 L432.63 222.22 L433.52 221.74 L434.40 221.25 L435.29 220.76 L436.18 220.27 L437.06 219.77 L437.94 219.27 L438.83 218.77 L439.72 218.26 L440.60 217.75 L441.49 217.23 L442.37 216.72 L443.25 216.20 L444.14 215.68 L445.02 215.15 L445.91 214.62 L446.80 214.09 L447.68 213.55 L448.56 213.01 L449.45 212.48 L450.33 211.94 L451.22 211.40 L452.11 210.83 L452.99 210.26 L453.88 209.71 L454.76 209.17 L455.64 208.61 L456.53 208.03 L457.42 207.45 L458.30 206.91 L459.19 206.37 L460.07 205.80 L460.96 205.17 L461.84 204.54 L462.73 203.96 L463.61 203.44 L464.50 202.89 L465.38 202.27 L466.26 201.64 L467.15 201.04 L468.03 200.50 L468.92 199.92 L469.81 199.26 L470.69 198.57 L471.57 197.95 L472.46 197.43 L473.35 196.91 L474.23 196.29 L475.12 195.58 L476.00 194.91 L476.88 194.32 L477.77 193.76 L478.65 193.12 L479.54 192.40 L480.43 191.73 L481.31 191.18 L482.19 190.68 L483.08 190.06 L483.97 189.30 L484.85 188.52 L485.74 187.88 L486.62 187.35 L487.50 186.77 L488.39 186.05 L489.27 185.32 L490.16 184.70 L491.04 184.17 L491.93 183.57 L492.81 182.79 L493.70 181.94 L494.58 181.23 L495.47 180.71 L496.36 180.20 L497.24 179.53 L498.12 178.72 L499.01 177.98 L499.89 177.39 L500.78 176.81 L501.67 176.07 L502.55 175.19 L503.44 174.41 L504.32 173.87 L505.21 173.42 L506.09 172.79 L506.98 171.93 L507.86 171.04 L508.75 170.35 L509.63 169.79 L510.51 169.15 L511.40 168.32 L512.28 167.48 L513.17 166.85 L514.06 166.38 L514.94 165.80 L515.83 164.92 L516.71 163.92 L517.60 163.11 L518.48 162.57 L519.37 162.05 L520.25 161.31 L521.13 160.42 L522.02 159.64 L522.90 159.09 L523.79 158.53 L524.67 157.70 L525.56 156.65 L526.44 155.74 L527.33 155.17 L528.21 154.76 L529.10 154.13 L529.99 153.21 L530.87 152.25 L531.75 151.54 L532.64 150.98 L533.52 150.27 L534.41 149.28 L535.29 148.31 L536.18 147.66 L537.07 147.26 L537.95 146.71 L538.84 145.79 L539.72 144.69 L540.61 143.80 L541.49 143.22 L542.38 142.64 L543.26 141.81 L544.14 140.83 L545.03 140.03 L545.91 139.52 L546.80 138.99 L547.68 138.12 L548.57 136.98 L549.46 135.97 L550.34 135.32 L551.23 134.85 L552.11 134.18 L553.00 133.22 L553.88 132.27 L554.76 131.57 L555.65 131.00 L556.54 130.23 L557.42 129.15 L558.31 128.08 L559.19 127.35 L560.08 126.90 L560.96 126.34 L561.85 125.43 L562.73 124.34 L563.62 123.44 L564.50 122.80 L565.38 122.13 L566.27 121.19 L567.15 120.13 L568.04 119.30 L568.92 118.78 L569.81 118.26 L570.69 117.40 L571.58 116.24 L572.46 115.18 L573.35 114.45 L574.24 113.87 L575.12 113.12 L576.00 112.11 L576.89 111.16 L577.77 110.48 L578.66 109.92 L579.54 109.13 L580.43 107.99 L581.32 106.84 L582.20 106.01 L583.09 105.49 L583.97 104.88 L584.86 103.96 L585.74 102.89 L586.62 102.01 L587.51 101.35 L588.39 100.63 L589.28 99.60 L590.16 98.45 L591.05 97.54 L591.93 96.98 L592.82 96.45 L593.71 95.61 L594.59 94.46 L595.48 93.39 L596.36 92.61 L597.25 91.95 L598.13 91.09 L599.01 90.01 L599.90 89.01 L600.79 88.34 L601.67 87.80 L602.56 87.02 L603.44 85.87 L604.33 84.66 L605.21 83.76 L606.10 83.14 L606.98 82.45 L607.87 81.49 L608.75 80.41 L609.63 79.56 L610.52 78.92 L611.40 78.18 L612.29 77.10 L613.17 75.86 L614.06 74.86 L614.94 74.23 L615.83 73.67 L616.71 72.81 L617.60 71.69 L618.49 70.63 L619.37 69.84 L620.25 69.14 L621.14 68.19 L622.02 67.02 L622.91 65.95 L623.79 65.24 L624.68 64.70 L625.57 63.93 L626.45 62.80 L627.34 61.58 L628.22 60.63 L629.11 59.93 L629.99 59.15 L630.88 58.11 L631.76 57.00 L632.64 56.15 L633.53 55.54 L634.41 54.81 L635.30 53.72 L636.18 52.43 L637.07 51.35 L637.96 50.63 L638.84 49.99 L639.73 49.10 L640.61 47.98 L641.50 46.95 L642.38 46.18 L643.26 45.46 L644.15 44.46 L645.04 43.21 L645.92 42.05 L646.80 41.27 L647.69 40.70 L648.58 39.93 L649.46 38.81 L650.35 37.62 L651.23 36.67 L652.12 35.92 L653.00 35.06" stroke="#ff0000"/>
<path d="M387.50 240.00 L388.38 240.00 L389.27 239.99 L390.15 239.98 L391.04 239.98 L391.93 239.97 L392.81 239.96 L393.69 239.95 L394.58 239.94 L395.46 239.93 L396.35 239.92 L397.24 239.91 L398.12 239.90 L399.00 239.89 L399.89 239.88 L400.77 239.87 L401.66 239.86 L402.55 239.84 L403.43 239.83 L404.31 239.82 L405.20 239.81 L406.08 239.79 L406.97 239.78 L407.86 239.77 L408.74 239.76 L409.62 239.74 L410.51 239.73 L411.39 239.71 L412.28 239.70 L413.17 239.69 L414.05 239.67 L414.94 239.66 L415.82 239.64 L416.70 239.63 L417.59 239.62 L418.48 239.60 L419.36 239.59 L420.25 239.57 L421.13 239.56 L422.01 239.54 L422.90 239.52 L423.78 239.51 L424.67 239.49 L425.56 239.48 L426.44 239.46 L427.32 239.45 L428.21 239.43 L429.10 239.41 L429.98 239.40 L430.87 239.38 L431.75 239.36 L432.63 239.35 L433.52 239.33 L434.40 239.31 L435.29 239.30 L436.18 239.28 L437.06 239.26 L437.94 239.25 L438.83 239.23 L439.72 239.21 L440.60 239.19 L441.49 239.18 L442.37 239.16 L443.25 239.14 L444.14 239.12 L445.02 239.11 L445.91 239.09 L446.80 239.07 L447.68 239.05 L448.56 239.03 L449.45 239.02 L450.33 239.00 L451.22 238.98 L452.11 238.96 L452.99 238.94 L453.88 238.92 L454.76 238.90 L455.64 238.89 L456.53 238.87 L457.42 238.85 L458.30 238.83 L459.19 238.81 L460.07 238.79 L460.96 238.77 L461.84 238.75 L462.73 238.73 L463.61 238.71 L464.50 238.69 L465.38 238.67 L466.26 238.65 L467.15 238.64 L468.03 238.62 L468.92 238.60 L469.81 238.58 L470.69 238.56 L471.57 238.54 L472.46 238.52 L473.35 238.50 L474.23 238.48 L475.12 238.46 L476.00 238.43 L476.88 238.41 L477.77 238.39 L478.65 238.37 L479.54 238.35 L480.43 238.33 L481.31 238.31 L482.19 238.29 L483.08 238.27 L483.97 238.25 L484.85 238.23 L485.74 238.21 L486.62 238.19 L487.50 238.17 L488.39 238.14 L489.27 238.12 L490.16 238.10 L491.04 238.08 L491.93 238.06 L492.81 238.04 L493.70 238.02 L494.58 237.99 L495.47 237.97 L496.36 237.95 L497.24 237.93 L498.12 237.91 L499.01 237.89 L499.89 237.86 L500.78 237.84 L501.67 237.82 L502.55 237.80 L503.44 237.78 L504.32 237.75 L505.21 237.73 L506.09 237.71 L506.98 237.69 L507.86 237.67 L508.75 237.64 L509.63 237.62 L510.51 237.60 L511.40 237.58 L512.28 237.55 L513.17 237.53 L514.06 237.51 L514.94 237.49 L515.83 237.46 L516.71 237.44 L517.60 237.42 L518.48 237.39 L519.37 237.37 L520.25 237.35 L521.13 237.33 L522.02 237.30 L522.90 237.28 L523.79 237.26 L524.67 237.23 L525.56 237.21 L526.44 237.19 L527.33 237.16 L528.21 237.14 L529.10 237.12 L529.99 237.09 L530.87 237.07 L531.75 237.05 L532.64 237.02 L533.52 237.00 L534.41 236.98 L535.29 236.95 L536.18 236.93 L537.07 236.90 L537.95 236.88 L538.84 236.86 L539.72 236.83 L540.61 236.81 L541.49 236.78 L542.38 236.76 L543.26 236.74 L544.14 236.71 L545.03 236.69 L545.91 236.66 L546.80 236.64 L547.68 236.62 L548.57 236.59 L549.46 236.57 L550.34 236.54 L551.23 236.52 L552.11 236.49 L553.00 236.47 L553.88 236.44 L554.76 236.42 L555.65 236.40 L556.54 236.37 L557.42 236.35 L558.31 236.32 L559.19 236.30 L560.08 236.27 L560.96 236.25 L561.85 236.22 L562.73 236.20 L563.62 236.17 L564.50 236.15 L565.38 236.12 L566.27 236.10 L567.15 236.07 L568.04 236.05 L568.92 236.02 L569.81 236.00 L570.69 235.97 L571.58 235.94 L572.46 235.92 L573.35 235.89 L574.24 235.87 L575.12 235.84 L576.00 235.82 L576.89 235.79 L577.77 235.77 L578.66 235.74 L579.54 235.72 L580.43 235.69 L581.32 235.66 L582.20 235.64 L583.09 235.61 L583.97 235.59 L584.86 235.56 L585.74 235.53 L586.62 235.51 L587.51 235.48 L588.39 235.46 L589.28 235.43 L590.16 235.40 L591.05 235.38 L591.93 235.35 L592.82 235.33 L593.71 235.30 L594.59 235.27 L595.48 235.25 L596.36 235.22 L597.25 235.19 L598.13 235.17 L599.01 235.14 L599.90 235.12 L600.79 235.09 L601.67 235.06 L602.56 235.04 L603.44 235.01 L604.33 234.98 L605.21 234.96 L606.10 234.93 L606.98 234.90 L607.87 234.88 L608.75 234.85 L609.63 234.82 L610.52 234.80 L611.40 234.77 L612.29 234.74 L613.17 234.72 L614.06 234.69 L614.94 234.66 L615.83 234.63 L616.71 234.61 L617.60 234.58 L618.49 234.55 L619.37 234.53 L620.25 234.50 L621.14 234.47 L622.02 234.44 L622.91 234.42 L623.79 234.39 L624.68 234.36 L625.57 234.33 L626.45 234.31 L627.34 234.28 L628.22 234.25 L629.11 234.23 L629.99 234.20 L630.88 234.17 L631.76 234.14 L632.64 234.12 L633.53 234.09 L634.41 234.06 L635.30 234.03 L636.18 234.00 L637.07 233.98 L637.96 233.95 L638.84 233.92 L639.73 233.89 L640.61 233.87 L641.50 233.84 L642.38 233.81 L643.26 233.78 L644.15 233.75 L645.04 233.73 L645.92 233.70 L646.80 233.67 L647.69 233.64 L648.58 233.61 L649.46 233.58 L650.35 233.56 L651.23 233.53 L652.12 233.50 L653.00 233.47" stroke="#00ff00"/>
</g>
<g font-size="12.30" fill="#000">
<text x="387.50" y="261.60" text-anchor="middle">0</text>
<text x="446.50" y="261.60" text-anchor="middle">2</text>
<text x="505.50" y="261.60" text-anchor="middle">4</text>
<text x="564.50" y="261.60" text-anchor="middle">6</text>
<text x="623.50" y="261.60" text-anchor="middle">8</text>
<text x="380.50" y="244.80" text-anchor="end">0</text>
<text x="380.50" y="190.40" text-anchor="end">5</text>
<text x="380.50" y="136.00" text-anchor="end">10</text>
<text x="380.50" y="81.60" text-anchor="end">15</text>
<text x="380.50" y="27.20" text-anchor="end">20</text>
</g>
<text x="522.00" y="285.40" font-size="14.30" text-anchor="middle" word-spacing="-1">B (T)</text>
<text transform="translate(352.60 160.50) rotate(-90)" font-size="14.30">MR (10<tspan dy="-8" dx="3.8" font-size="8.50">3</tspan><tspan dy="8" dx="4.2">%)</tspan></text>
<g font-size="14.50">
<path d="M411.30 26.20H445.80" stroke="#000000" stroke-width="2.60" fill="none"/>
<text x="448.60" y="31.60" word-spacing="0.00">2K</text>
<path d="M411.30 43.85H445.80" stroke="#ff0000" stroke-width="2.60" fill="none"/>
<text x="448.60" y="49.25" word-spacing="0.00">8K</text>
<path d="M411.30 61.50H445.80" stroke="#00ff00" stroke-width="2.60" fill="none"/>
<text x="448.60" y="66.90" word-spacing="0.00">50K</text>
</g>
<text y="32.50" font-size="15.00" font-weight="bold" letter-spacing="0.00"><tspan x="513.30" dy="0.00">(b)</tspan></text>
<text y="59.00" font-size="13.00" font-weight="bold" letter-spacing="0.00"><tspan x="513.20" dy="0.00">B</tspan><tspan x="524.50" font-weight="normal" fill="#151515" dy="-1.00">|</tspan><tspan x="529.80" font-weight="normal" fill="#151515" dy="0.00">|</tspan><tspan x="536.00" dy="1.00">a</tspan></text>
<text y="76.00" font-size="13.00" font-weight="bold" letter-spacing="0.00"><tspan x="513.60" dy="0.00">I</tspan><tspan x="519.40" font-weight="normal" fill="#151515" dy="-1.00">|</tspan><tspan x="524.80" font-weight="normal" fill="#151515" dy="0.00">|</tspan><tspan x="531.00" dy="1.00">b</tspan></text>
</svg></body></html>
